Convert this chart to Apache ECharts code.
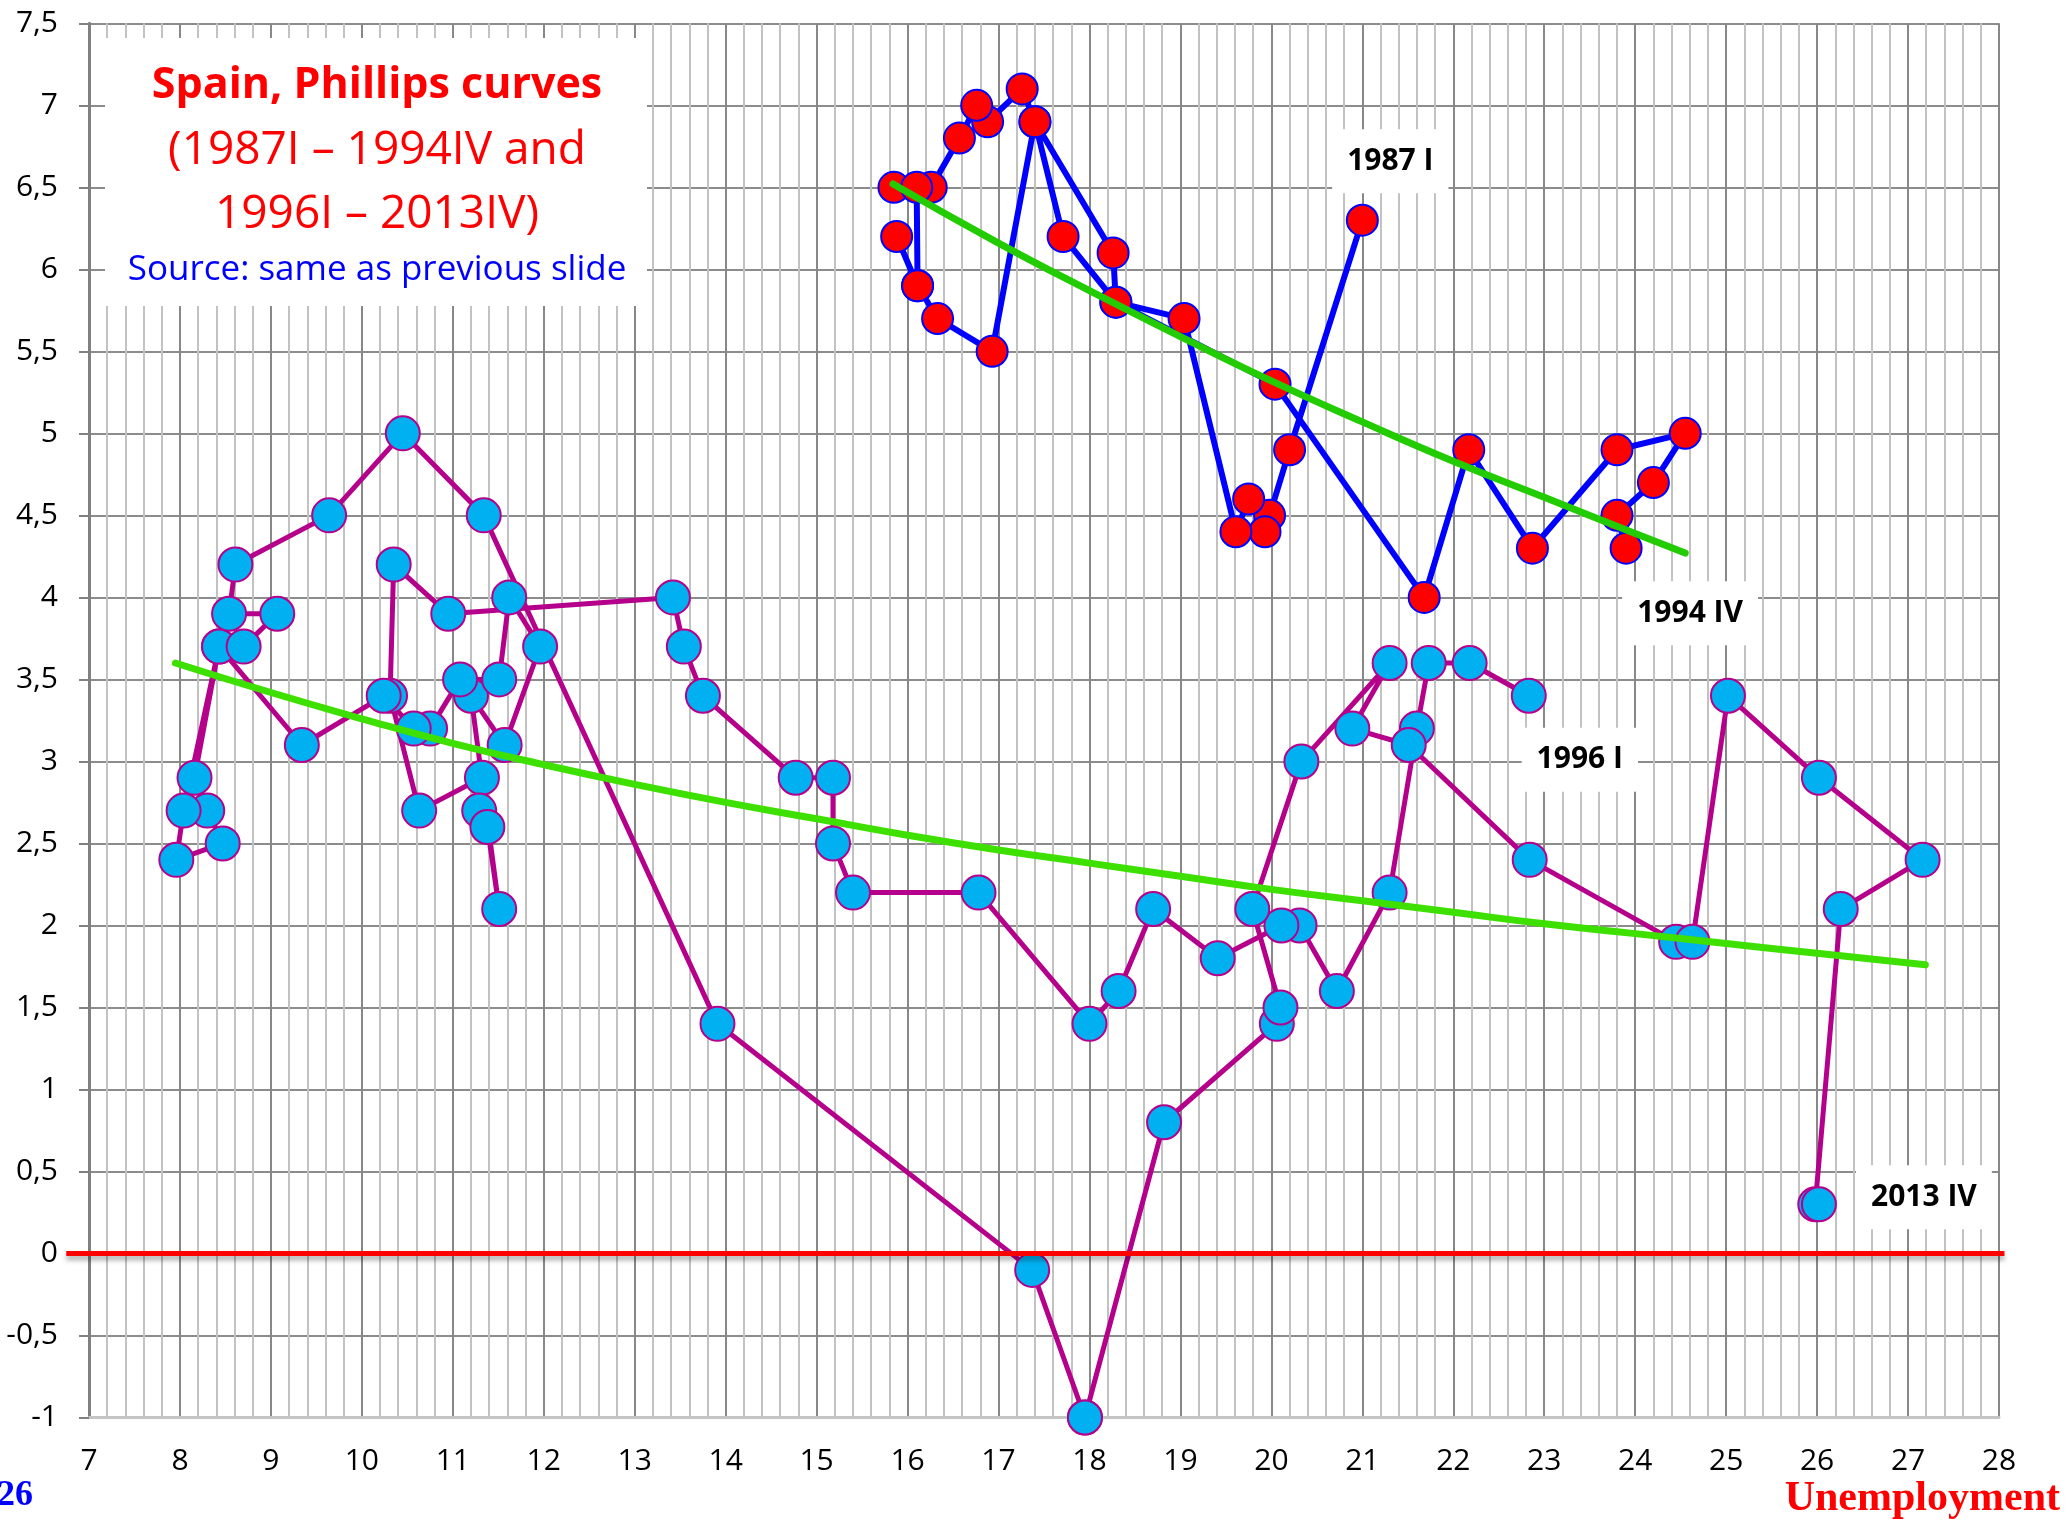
<!DOCTYPE html>
<html>
<head>
<meta charset="utf-8">
<title>Spain, Phillips curves</title>
<script src="https://cdn.jsdelivr.net/npm/echarts@6/dist/echarts.min.js"></script>
<style>
  html, body { margin: 0; padding: 0; background: #fff; }
  #chart { width: 2067px; height: 1519px; }
</style>
</head>
<body>
<div id="chart"></div>
<script>
var chart = echarts.init(document.getElementById("chart"));
var fontName = '"Open Sans", "Noto Sans", sans-serif';

// 1987 I - 1994 IV (unemployment %, inflation %)
var blueUnemp = [21.0, 20.2, 19.98, 19.93, 19.75, 19.61, 19.04, 18.29, 17.71, 17.40, 17.26, 16.88,
  16.76, 16.57, 16.26, 15.85, 16.10, 16.11, 15.88, 16.11, 16.33, 16.93, 17.40, 18.26, 18.29,
  20.04, 21.68, 22.17, 22.87, 23.80, 24.55, 24.20, 23.80, 23.90];
var blueInfl = [6.3, 4.9, 4.5, 4.4, 4.6, 4.4, 5.7, 5.8, 6.2, 6.9, 7.1, 6.9,
  7.0, 6.8, 6.5, 6.5, 6.5, 5.9, 6.2, 5.9, 5.7, 5.5, 6.9, 6.1, 5.8,
  5.3, 4.0, 4.9, 4.3, 4.9, 5.0, 4.7, 4.5, 4.3];

// 1996 I - 2013 IV
var magUnemp = [22.83, 22.18, 21.73, 21.60, 21.30, 20.72, 20.31, 20.11, 19.41, 18.70, 18.32, 18.00,
  16.78, 15.40, 15.18, 15.18, 14.77, 13.75, 13.54, 13.42,
  10.95, 10.35, 10.31, 10.63, 11.32, 11.29, 11.38, 11.51, 11.20, 11.57, 11.96, 11.62,
  11.51, 11.08, 10.75, 10.57, 10.24, 9.34, 8.43, 8.16, 8.30, 8.47, 7.96, 8.04,
  8.43, 8.70, 9.07, 8.54, 8.61, 9.64, 10.45, 11.34, 13.91,
  17.37, 17.95, 17.95, 18.82, 20.06, 20.10, 19.79, 20.33, 21.30, 20.89, 21.51, 22.84,
  24.45, 24.63, 25.02, 26.02, 27.16, 26.26, 25.98, 26.02];
var magInfl = [3.4, 3.6, 3.6, 3.2, 2.2, 1.6, 2.0, 2.0, 1.8, 2.1, 1.6, 1.4,
  2.2, 2.2, 2.5, 2.9, 2.9, 3.4, 3.7, 4.0,
  3.9, 4.2, 3.4, 2.7, 2.9, 2.7, 2.6, 2.1, 3.4, 3.1, 3.7, 4.0,
  3.5, 3.5, 3.2, 3.2, 3.4, 3.1, 3.7, 2.9, 2.7, 2.5, 2.4, 2.7,
  3.7, 3.7, 3.9, 3.9, 4.2, 4.5, 5.0, 4.5, 1.4,
  -0.1, -1.0, -1.0, 0.8, 1.4, 1.5, 2.1, 3.0, 3.6, 3.2, 3.1, 2.4,
  1.9, 1.9, 3.4, 2.9, 2.4, 2.1, 0.3, 0.3];

// trend curves
var blueTrendX = [15.84, 17, 18, 19, 20, 21, 22, 23, 24, 24.55];
var blueTrendY = [6.52, 6.16, 5.87, 5.59, 5.32, 5.07, 4.83, 4.61, 4.39, 4.27];
var magTrendX = [7.95, 9, 10, 11, 12, 13, 14, 15, 16, 17, 18, 19, 20, 21, 22, 23, 24, 25, 26, 27.19];
var magTrendY = [3.60, 3.42, 3.26, 3.11, 2.98, 2.86, 2.75, 2.65, 2.55, 2.46, 2.38, 2.30, 2.22,
  2.15, 2.08, 2.01, 1.95, 1.89, 1.83, 1.76];

// the red zero line runs a little past both ends of the x axis
var zeroLineX = [6.75, 28.06];
var zeroLineY = [0, 0];

var blueEndLabels = ["1987 I", "1994 IV"];
var magEndLabels = ["1996 I", "2013 IV"];

function pairs(xs, ys) {
  var out = [];
  for (var i = 0; i < xs.length; i++) out.push([xs[i], ys[i]]);
  return out;
}

function endLabel(text, offset) {
  return {
    show: true,
    position: "inside",
    offset: offset,
    formatter: text,
    color: "#000",
    fontFamily: fontName,
    fontWeight: "bold",
    fontSize: 30,
    lineHeight: 30,
    backgroundColor: "#fff",
    padding: [17, 15]
  };
}

function withEndLabels(points, texts, offFirst, offLast) {
  var data = points.map(function (p) { return { value: p }; });
  data[0].label = endLabel(texts[0], offFirst);
  data[data.length - 1].label = endLabel(texts[1], offLast);
  return data;
}

var blueData = withEndLabels(pairs(blueUnemp, blueInfl), blueEndLabels, [28, -59], [64, 65]);
var magData = withEndLabels(pairs(magUnemp, magInfl), magEndLabels, [51, 64], [105, -7]);

var titleGraphics = [
  { type: "rect", z: 1, shape: { x: 105, y: 38, width: 542, height: 268 }, style: { fill: "#fff" } },
  { type: "text", z: 5, x: 377, y: 86, style: { text: "Spain, Phillips curves", fill: "#ff0000", font: 'bold 43px "Open Sans"', align: "center", verticalAlign: "middle" } },
  { type: "text", z: 5, x: 377, y: 151, style: { text: "(1987I \u2013 1994IV and", fill: "#ff0000", font: '46px "Open Sans"', align: "center", verticalAlign: "middle" } },
  { type: "text", z: 5, x: 377, y: 215, style: { text: "1996I \u2013 2013IV)", fill: "#ff0000", font: '46px "Open Sans"', align: "center", verticalAlign: "middle" } },
  { type: "text", z: 5, x: 377, y: 270, style: { text: "Source: same as previous slide", fill: "#0000ff", font: '35px "Open Sans"', align: "center", verticalAlign: "middle" } },
  { type: "text", z: 5, x: 33, y: 1496, style: { text: "26", fill: "#0000ff", font: 'bold 36px "Liberation Serif"', align: "right", verticalAlign: "middle" } },
  { type: "text", z: 5, x: 2060, y: 1499, style: { text: "Unemployment", fill: "#ff0000", font: 'bold 42px "Liberation Serif"', align: "right", verticalAlign: "middle" } }
];

chart.setOption({
  animation: false,
  backgroundColor: "#fff",
  grid: {
    left: 89,
    right: 68,
    top: 23.3,
    bottom: 101.5,
    containLabel: false,
    outerBoundsMode: "none"
  },
  xAxis: {
    type: "value",
    min: 7,
    max: 28,
    interval: 1,
    axisLine: { show: true, onZero: false, lineStyle: { color: "#c4c4c4", width: 3 } },
    axisTick: { show: false },
    minorTick: { show: false, splitNumber: 5 },
    axisLabel: { margin: 29, color: "#000", fontSize: 30, fontFamily: fontName },
    splitLine: { show: true, lineStyle: { color: "#888", width: 2 } },
    minorSplitLine: { show: true, lineStyle: { color: "#c2c2c2", width: 2 } }
  },
  yAxis: {
    type: "value",
    min: -1,
    max: 7.5,
    interval: 0.5,
    axisLine: { show: true, onZero: false, lineStyle: { color: "#808080", width: 3 } },
    axisTick: { show: true, length: 10, lineStyle: { color: "#808080", width: 2 } },
    axisLabel: {
      margin: 31,
      color: "#000",
      fontSize: 30,
      fontFamily: fontName,
      formatter: function (v) { return String(v).replace(".", ","); }
    },
    splitLine: { show: true, lineStyle: { color: "#8c8c8c", width: 2 } }
  },
  graphic: titleGraphics,
  series: [
    {
      name: "1996I-2013IV",
      type: "line",
      z: 2,
      data: magData,
      symbol: "circle",
      symbolSize: 34,
      lineStyle: { color: "#b5008c", width: 5 },
      itemStyle: { color: "#00b0f0", borderColor: "#b5008c", borderWidth: 2 },
      label: { show: false },
      emphasis: { disabled: true }
    },
    {
      name: "1987I-1994IV",
      type: "line",
      z: 2,
      data: blueData,
      symbol: "circle",
      symbolSize: 31,
      lineStyle: { color: "#0000ff", width: 6 },
      itemStyle: { color: "#ff0000", borderColor: "#0000ff", borderWidth: 2 },
      label: { show: false },
      emphasis: { disabled: true }
    },
    {
      name: "trend 1996-2013",
      type: "line",
      z: 3,
      smooth: true,
      symbol: "none",
      data: pairs(magTrendX, magTrendY),
      lineStyle: { color: "#3ee000", width: 7, cap: "round" },
      emphasis: { disabled: true }
    },
    {
      name: "trend 1987-1994",
      type: "line",
      z: 3,
      smooth: true,
      symbol: "none",
      data: pairs(blueTrendX, blueTrendY),
      lineStyle: { color: "#22cc00", width: 7, cap: "round" },
      emphasis: { disabled: true }
    }
  ]
});

// zero line: its ends lie outside the axis range, so extend the axis's own
// pixel mapping (taken at the two axis ends) rather than let it clamp
var a0 = chart.convertToPixel({ gridIndex: 0 }, [7, 0]);
var a1 = chart.convertToPixel({ gridIndex: 0 }, [28, 0]);
function xPix(v) { return a0[0] + (v - 7) * (a1[0] - a0[0]) / 21; }
chart.setOption({
  graphic: titleGraphics.concat([{
    type: "line",
    z: 4,
    shape: { x1: xPix(zeroLineX[0]), y1: a0[1], x2: xPix(zeroLineX[1]), y2: a0[1] },
    style: {
      stroke: "#ff0000",
      lineWidth: 5,
      shadowColor: "rgba(0,0,0,0.35)",
      shadowBlur: 5,
      shadowOffsetY: 4
    }
  }])
});
</script>
</body>
</html>
